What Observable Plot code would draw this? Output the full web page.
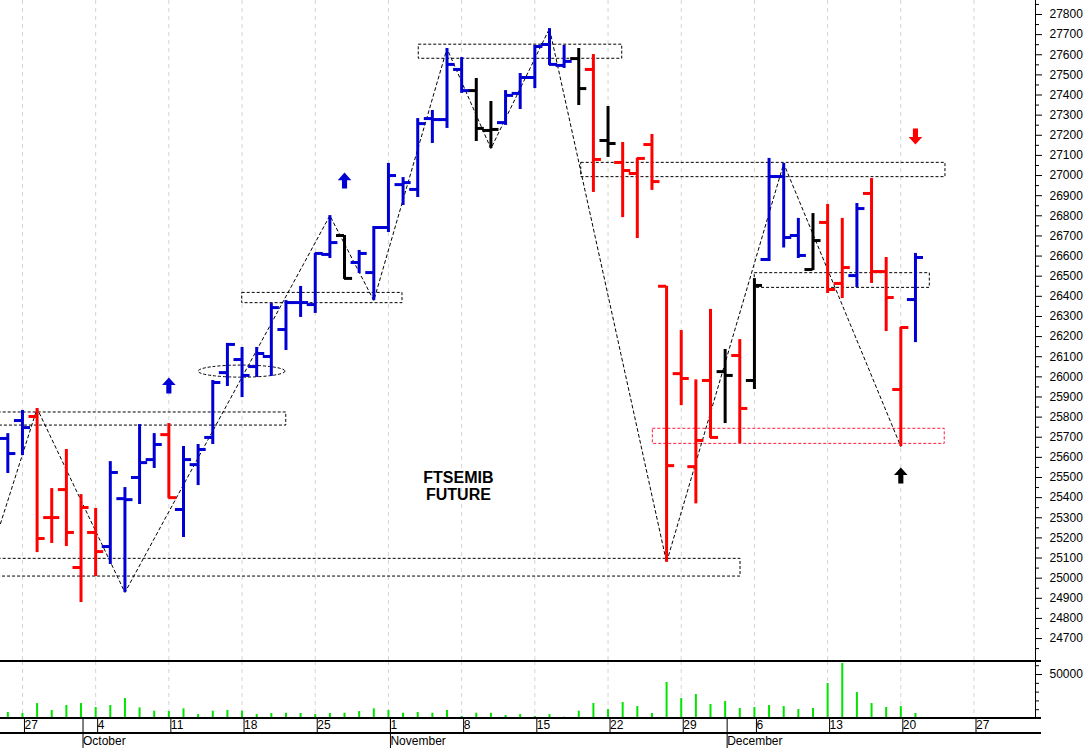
<!DOCTYPE html>
<html><head><meta charset="utf-8">
<script src="https://cdn.jsdelivr.net/npm/d3@7"></script>
<script src="https://cdn.jsdelivr.net/npm/@observablehq/plot@0.6"></script>
<style>
body{margin:0;background:#fff;}
#chart{width:1088px;height:748px;position:relative;overflow:hidden;background:#fff}
#chart svg{display:block}
</style></head><body><div id="chart"></div>
<script>
// ---- data (index 0 = 24 Sep 2021, one per trading day) ----
const opens  = [25694,25783,25803,25301,25440,25053,25227,25157,25395,25500,25589,25713,25341,25564,25699,26021,26086,26051,26101,26235,26369,26359,26608,26702,26568,26518,26742,26955,26931,27283,27278,27527,27422,27224,27263,27408,27487,27651,27547,27581,27527,27174,27065,27010,27154,26450,26016,25554,25982,26026,26106,25982,26583,26995,26702,26533,26767,26464,26503,26911,26523,25937,26384];
const highs  = [25718,25833,25843,25445,25639,25415,25346,25579,25450,25763,25718,25768,25654,25664,25982,26166,26146,26146,26364,26379,26449,26613,26801,26702,26628,26747,27060,26990,27283,27323,27631,27586,27482,27368,27422,27507,27646,27730,27646,27631,27601,27343,27164,27085,27204,26450,26230,25985,26335,26136,26185,26488,27085,27060,26787,26811,26856,26787,26861,26985,26593,26245,26613];
const lows   = [25520,25609,25127,25172,25157,24879,25008,25068,24929,25366,25545,25395,25202,25460,25664,25952,25897,25997,26002,26131,26295,26315,26588,26484,26513,26379,26717,26851,26891,27159,27234,27408,27169,27134,27249,27328,27432,27547,27532,27348,26916,27090,26791,26687,26926,25079,25857,25369,25694,25768,25669,25937,26573,26640,26588,26528,26414,26389,26444,26464,26225,25654,26170];
const closes = [25619,25748,25197,25301,25227,25351,25132,25525,25390,25574,25664,25400,25589,25639,25972,26161,26007,26116,26344,26369,26369,26613,26667,26489,26613,26742,27000,26965,27258,27278,27552,27422,27234,27229,27398,27487,27641,27552,27567,27432,27080,27159,27025,27085,26970,25559,25992,25684,25699,26007,25843,26454,26995,26692,26603,26677,26434,26543,26836,26523,26394,26245,26593];
const trends = ["up","up","down","down","down","down","down","up","up","up","up","down","up","up","up","up","up","up","up","up","up","up","up","flat","up","up","up","up","up","up","up","up","flat","flat","up","up","up","up","up","flat","down","flat","down","down","down","down","down","down","down","flat","down","flat","up","up","up","flat","down","down","up","down","down","down","up"];
const volumes = [6800,5700,17000,9100,14800,17000,12500,14800,22700,12100,8300,8000,11000,4500,8300,9100,8300,4500,5700,6000,5700,4500,5700,6000,7900,11000,9100,6000,6800,6000,9100,2300,6000,6000,3400,4500,2300,4500,1500,8300,17000,10200,18200,13600,5700,40900,22700,27300,15900,19300,11400,12500,14800,13600,10200,11400,39800,62500,29500,17000,12500,13600,5700];

const weekTickIdx = [1,6,11,16,21,26,31,36,41,46,51,56,61,66];
const weekTickLabels = ["27","4","11","18","25","1","8","15","22","29","6","13","20","27"];
const monthTickIdx = [5,26,49];
const monthTickLabels = ["October","November","December"];
const priceTicks = d3.range(24700, 27801, 100);
const priceMinorTicks = d3.range(24650, 27851, 100);
const volTicks = [50000];
const volMinorTicks = [0,10000,20000,30000,40000,60000];

// annotations
const zigzagIdx = [-0.5, 2, 8, 22, 25, 30, 33, 37, 45, 53, 61];
const zigzagPrice = [25271, 25843, 24929, 26801, 26379, 27631, 27134, 27730, 25079, 27060, 25654];
const blackBoxes = [
  {i1: -1, i2: 19.02, p1: 25758, p2: 25823},
  {i1: -1, i2: 50.05, p1: 25008, p2: 25096},
  {i1: 16.01, i2: 26.96, p1: 26366, p2: 26417},
  {i1: 28.07, i2: 41.97, p1: 27580, p2: 27650},
  {i1: 39.17, i2: 64.05, p1: 26992, p2: 27063},
  {i1: 51.02, i2: 62.98, p1: 26442, p2: 26515}
];
const redBoxes = [{i1: 44.06, i2: 64.0, p1: 25667, p2: 25742}];
const ellipseSpec = {i: 16.0, p: 26026, di: 2.97, dp: 30};
const arrowsUp = [{i: 11, p: 25957, trend: "up"}, {i: 23, p: 26975, trend: "up"}, {i: 61, p: 25510, trend: "flat"}];
const arrowsDown = [{i: 62, p: 27194, trend: "down"}];
const titleLines = [{i: 30.78, p: 25500, t: "FTSEMIB"}, {i: 30.78, p: 25415, t: "FUTURE"}];

// ---- build ----
const bars = opens.map((o, k) => ({i: k, open: o, high: highs[k], low: lows[k], close: closes[k], trend: trends[k]}));
const vols = volumes.map((v, k) => ({i: k, v}));
const zigzag = zigzagIdx.map((i, k) => ({i, p: zigzagPrice[k]}));
const weekLabel = new Map(weekTickIdx.map((d, k) => [d, weekTickLabels[k]]));
const monthLabel = new Map(monthTickIdx.map((d, k) => [d, monthTickLabels[k]]));

const W = 1088, axisX = 1035, xMin = -0.5, xMax = 70.2;
const tickLen = 0.55;
const colorScale = {domain: ["up", "down", "flat"], range: ["#0000d4", "#ff0000", "#000000"]};
const font = "'Liberation Sans', Arial, sans-serif";
const xScale = {type: "linear", domain: [xMin, xMax], range: [0, axisX], label: null};

function arrowSymbol(dir) {
  return {draw(ctx, size) {
    const r = Math.sqrt(size / Math.PI), s = dir;
    ctx.moveTo(0, -r * s);
    ctx.lineTo(0.85 * r, -0.05 * r * s);
    ctx.lineTo(0.32 * r, -0.05 * r * s);
    ctx.lineTo(0.32 * r, r * s);
    ctx.lineTo(-0.32 * r, r * s);
    ctx.lineTo(-0.32 * r, -0.05 * r * s);
    ctx.lineTo(-0.85 * r, -0.05 * r * s);
    ctx.closePath();
  }};
}
// horizontal panel line from left edge to just past the right axis, offset (px) from the plot bottom
function panelLine(offsetFromBottom, fromTop) {
  return (index, scales, values, dims) => {
    const y = fromTop ? dims.marginTop + offsetFromBottom : dims.height - dims.marginBottom + offsetFromBottom;
    return d3.create("svg:line").attr("x1", 0).attr("x2", dims.width - dims.marginRight + 6)
      .attr("y1", y).attr("y2", y).attr("stroke", "black").attr("stroke-width", 2).node();
  };
}

const priceH = 661;
const price = Plot.plot({
  width: W, height: priceH,
  marginLeft: 0, marginRight: W - axisX, marginTop: 0, marginBottom: 0,
  x: {...xScale, axis: null},
  y: {domain: [24586, 27869.5], range: [priceH, 0], label: null},
  color: colorScale,
  style: {fontFamily: font, fontSize: "12px", background: "transparent", overflow: "visible"},
  marks: [
    Plot.ruleX(weekTickIdx, {stroke: "#d4d4d4", strokeDasharray: "4,4"}),
    Plot.rect(blackBoxes, {x1: "i1", x2: "i2", y1: "p1", y2: "p2", fill: "none", stroke: "black", strokeWidth: 1, strokeDasharray: "3,2"}),
    Plot.rect(redBoxes, {x1: "i1", x2: "i2", y1: "p1", y2: "p2", fill: "none", stroke: "#ff1a3c", strokeWidth: 1, strokeDasharray: "3,2"}),
    (index, scales) => {
      const cx = scales.x(ellipseSpec.i), cy = scales.y(ellipseSpec.p);
      const rx = Math.abs(scales.x(ellipseSpec.i + ellipseSpec.di) - cx);
      const ry = Math.abs(scales.y(ellipseSpec.p + ellipseSpec.dp) - cy);
      return d3.create("svg:ellipse").attr("cx", cx).attr("cy", cy).attr("rx", rx).attr("ry", ry)
        .attr("fill", "none").attr("stroke", "black").attr("stroke-dasharray", "3,2").node();
    },
    Plot.line(zigzag, {x: "i", y: "p", stroke: "black", strokeWidth: 1, strokeDasharray: "3,3"}),
    Plot.ruleX(bars, {x: "i", y1: "low", y2: "high", stroke: "trend", strokeWidth: 3}),
    Plot.ruleY(bars, {y: "open", x1: d => d.i - tickLen, x2: "i", stroke: "trend", strokeWidth: 3}),
    Plot.ruleY(bars, {y: "close", x1: "i", x2: d => d.i + tickLen, stroke: "trend", strokeWidth: 3}),
    Plot.dot(arrowsUp, {x: "i", y: "p", r: 8, symbol: arrowSymbol(1), fill: "trend", stroke: "none"}),
    Plot.dot(arrowsDown, {x: "i", y: "p", r: 8, symbol: arrowSymbol(-1), fill: "trend", stroke: "none"}),
    Plot.text(titleLines, {x: "i", y: "p", text: "t", fontWeight: "bold", fontSize: 16, fill: "black", fontFamily: font}),
    Plot.ruleX([xMax], {stroke: "black", strokeWidth: 1}),
    Plot.axisY({anchor: "right", ticks: priceTicks, tickSize: 6, tickPadding: 8, tickFormat: d => String(d), fontSize: 12, label: null}),
    Plot.axisY({anchor: "right", ticks: priceMinorTicks, tickSize: 3, tickFormat: () => "", label: null})
  ]
});

const volH = 87, volBottom = 30;
const volume = Plot.plot({
  width: W, height: volH,
  marginLeft: 0, marginRight: W - axisX, marginTop: 0, marginBottom: volBottom,
  x: xScale,
  y: {domain: [0, 64800], label: null},
  style: {fontFamily: font, fontSize: "12px", background: "transparent", overflow: "visible"},
  marks: [
    Plot.ruleX(weekTickIdx, {stroke: "#d4d4d4", strokeDasharray: "4,4"}),
    Plot.ruleX(vols, {x: "i", y1: 0, y2: "v", stroke: "#00e400", strokeWidth: 2}),
    panelLine(0, true),
    panelLine(0, false),
    panelLine(15, false),
    Plot.ruleX([xMax], {stroke: "black", strokeWidth: 1}),
    Plot.axisY({anchor: "right", ticks: volTicks, tickSize: 6, tickPadding: 8, tickFormat: d => String(d), fontSize: 12, label: null}),
    Plot.axisY({anchor: "right", ticks: volMinorTicks, tickSize: 3, tickFormat: () => "", label: null}),
    Plot.axisX({anchor: "bottom", ticks: weekTickIdx, tickSize: 15, tickPadding: -13, tickFormat: d => weekLabel.get(d), textAnchor: "start", dx: 2, fontSize: 12, label: null}),
    Plot.axisX({anchor: "bottom", ticks: monthTickIdx, tickSize: 30, tickPadding: -12, tickFormat: d => monthLabel.get(d), textAnchor: "start", dx: 2, fontSize: 12, label: null})
  ]
});

const root = document.getElementById("chart");
root.appendChild(price);
root.appendChild(volume);
</script></body></html>
